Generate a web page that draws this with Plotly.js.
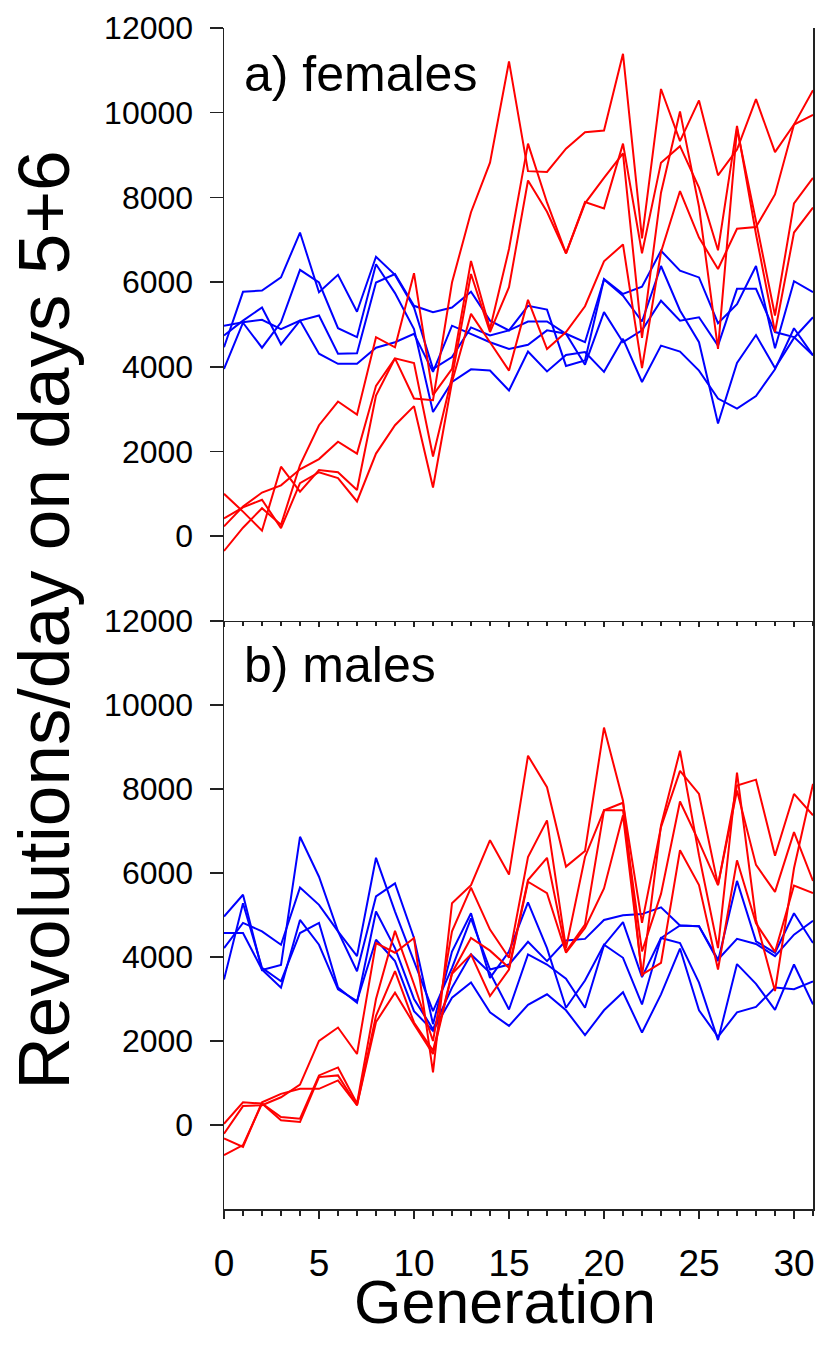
<!DOCTYPE html>
<html>
<head>
<meta charset="utf-8">
<script src="https://cdn.plot.ly/plotly-3.0.1.min.js"></script>
<style>
html,body{margin:0;padding:0;background:#fff;}
#chart{width:817px;height:1350px;}
</style>
</head>
<body>
<div id="chart"></div>
<script>
// Generations (x values)
const generations = [0,1,2,3,4,5,6,7,8,9,10,11,12,13,14,15,16,17,18,19,20,21,22,23,24,25,26,27,28,29,30,31];

// a) females - control lines (blue)
const femalesBlue1 = [4460,5770,5800,6110,7170,5760,6170,5300,6600,6170,5400,3950,4230,4930,4740,4860,5070,5070,4780,4580,6060,5680,5070,6380,5330,4580,2660,4090,4750,3970,4680,5170];
const femalesBlue2 = [3950,5040,4450,5050,6290,5990,4910,4700,6420,5740,4890,2930,3640,3940,3910,3440,4360,3890,4280,4350,3880,4660,3640,4500,4360,3910,3250,3010,3310,3940,4910,4270];
const femalesBlue3 = [4740,5090,5400,4530,5090,5210,4310,4320,5990,6190,5440,5290,5400,5770,5090,4860,5440,5350,4020,4150,6070,5720,5890,6740,6270,6110,5030,5480,6380,4440,6020,5760];
const femalesBlue4 = [4970,5050,5110,4890,5090,4310,4070,4070,4450,4580,4780,3880,4970,4780,4580,4420,4520,4860,4780,4050,5290,4580,4860,5560,5090,5170,4500,5840,5840,4820,4700,4270];

// a) females - selected lines (red)
const femalesRed1 = [1000,580,130,1640,1050,1560,1510,1090,3320,4200,3250,3210,5990,7650,8820,11210,8620,8600,9150,9540,9580,11390,7030,10560,9330,10290,8520,9130,10320,9070,9720,9950];
const femalesRed2 = [-350,200,660,270,1680,2620,3180,2870,4700,4460,6210,3330,3950,6500,4890,6780,9270,7880,6680,7890,7740,9270,6680,8820,9210,8230,6750,9690,7130,4820,7170,7760];
const femalesRed3 = [230,700,1030,1200,1580,1820,2230,1950,3550,4200,4090,1880,3760,6190,4820,5880,8400,7660,6680,7860,8460,9040,4680,8110,10030,7780,4420,9620,7440,5210,7860,8460];
const femalesRed4 = [420,680,860,190,1250,1510,1370,820,1950,2620,3070,1150,3640,5250,4580,3910,5580,4420,4820,5430,6490,6890,3970,6710,8150,7050,6310,7260,7300,8070,9720,10530];

// b) males - control lines (blue)
const malesBlue1 = [4960,5480,3690,3810,6860,5910,4610,4020,6360,5080,3900,2710,3740,4920,3700,3820,4360,3900,4390,4430,4880,4990,5020,5180,4750,4730,3940,4430,4310,4020,4530,4860];
const malesBlue2 = [4570,4570,3700,3270,4880,4290,3230,2950,4410,3900,2710,2240,3030,3390,2680,2360,2860,3110,2730,2140,2730,3160,2200,3110,4200,2730,2100,2680,2810,3270,3230,3420];
const malesBlue3 = [4210,4810,4610,4290,5650,5240,4610,3660,5440,5750,4450,2400,4130,5040,3500,4130,5300,4210,2790,3440,4290,3980,2870,4450,4750,4730,3900,5810,4370,4100,5040,4330];
const malesBlue4 = [3460,5280,3740,3420,4570,4810,3270,2910,5080,4210,3000,2280,3270,4060,3620,2750,4060,3820,3480,2790,4280,4830,3520,4450,4330,3390,2020,3830,3360,2740,3820,2870];

// b) males - selected lines (red)
const malesRed1 = [30,540,510,190,150,1180,1370,510,3000,4620,3350,2000,4610,5650,4650,3980,6380,7250,4210,6380,7490,7670,4810,7090,8430,7880,5710,8080,8220,6410,7880,7370];
const malesRed2 = [-320,-520,540,740,860,860,1060,470,2600,3660,2440,1770,3620,4450,4150,3740,5830,6360,4130,4770,7490,7490,4130,5500,7700,6740,5710,7960,6190,5550,6970,5810];
const malesRed3 = [-210,450,470,660,960,2000,2320,1690,4330,4100,4450,1250,5280,5710,6780,5960,8790,8040,6150,6520,9460,7720,3540,7130,8910,6420,4210,8390,4880,3190,6110,8120];
const malesRed4 = [-720,-480,510,110,70,1140,1180,470,2450,3150,2400,1690,3600,4060,3070,3700,5790,5520,4100,4690,5630,7370,3580,3860,6540,5710,3700,6300,4800,4120,5700,5520];

// Tick labels
const yTickValues = [0,2000,4000,6000,8000,10000,12000];
const yTickLabels = ['0','2000','4000','6000','8000','10000','12000'];

const panelLabels = ['a) females','b) males'];
const xTitle = 'Generation';
const yTitle = 'Revolutions/day on days 5+6';

const BLUE = '#0000ff', RED = '#ff0000';
const FONT = 'Arial, "Liberation Sans", Helvetica, sans-serif';

function line(y, color, xa, ya) {
  return {x: generations, y: y, type: 'scatter', mode: 'lines',
          line: {color: color, width: 2}, xaxis: xa, yaxis: ya, hoverinfo: 'skip'};
}

const traces = [
  line(femalesBlue1, BLUE, 'x2', 'y2'), line(femalesBlue2, BLUE, 'x2', 'y2'),
  line(femalesBlue3, BLUE, 'x2', 'y2'), line(femalesBlue4, BLUE, 'x2', 'y2'),
  line(femalesRed1, RED, 'x2', 'y2'), line(femalesRed2, RED, 'x2', 'y2'),
  line(femalesRed3, RED, 'x2', 'y2'), line(femalesRed4, RED, 'x2', 'y2'),
  line(malesBlue1, BLUE, 'x', 'y'), line(malesBlue2, BLUE, 'x', 'y'),
  line(malesBlue3, BLUE, 'x', 'y'), line(malesBlue4, BLUE, 'x', 'y'),
  line(malesRed1, RED, 'x', 'y'), line(malesRed2, RED, 'x', 'y'),
  line(malesRed3, RED, 'x', 'y'), line(malesRed4, RED, 'x', 'y')
];

const AX = '#222222';
const yBase = {
  range: [-2000, 12000], tickmode: 'array', tickvals: yTickValues, ticktext: yTickLabels,
  ticks: 'outside', ticklen: 13, tickwidth: 1.5, tickcolor: AX,
  showline: true, linecolor: AX, linewidth: 1.5, mirror: true,
  showgrid: false, zeroline: false, fixedrange: true,
  tickfont: {family: FONT, size: 32, color: '#000'}, ticklabelstandoff: 10
};
const split = 0.498;

const layout = {
  width: 817, height: 1350,
  margin: {l: 224, r: 4, t: 28, b: 141},
  paper_bgcolor: '#ffffff', plot_bgcolor: '#ffffff',
  showlegend: false, hovermode: false,
  font: {family: FONT, color: '#000'},
  xaxis: {
    domain: [0, 1], anchor: 'y', range: [0, 31],
    tickmode: 'linear', tick0: 0, dtick: 5,
    ticks: 'outside', ticklen: 8, tickwidth: 1.5, tickcolor: AX,
    minor: {dtick: 1, tick0: 0, ticks: 'outside', ticklen: 5, tickwidth: 1.5, tickcolor: AX, showgrid: false},
    showline: true, linecolor: AX, linewidth: 1.5,
    showgrid: false, zeroline: false, fixedrange: true,
    tickfont: {family: FONT, size: 37, color: '#000'}, ticklabelstandoff: 13
  },
  xaxis2: {
    domain: [0, 1], anchor: 'y2', range: [0, 31], matches: 'x',
    tickmode: 'linear', tick0: 0, dtick: 5,
    ticks: 'outside', ticklen: 5, tickwidth: 1.5, tickcolor: AX,
    minor: {dtick: 1, tick0: 0, ticks: 'outside', ticklen: 4, tickwidth: 1.5, tickcolor: AX, showgrid: false},
    showticklabels: false,
    showline: true, linecolor: AX, linewidth: 1.5,
    showgrid: false, zeroline: false, fixedrange: true
  },
  yaxis: Object.assign({}, yBase, {domain: [0, split], anchor: 'x'}),
  yaxis2: Object.assign({}, yBase, {domain: [split, 1], anchor: 'x2'}),
  annotations: [
    {text: panelLabels[0], xref: 'paper', yref: 'paper', x: 0.031, y: 0.961,
     xanchor: 'left', yanchor: 'middle', showarrow: false, font: {family: FONT, size: 50, color: '#000'}},
    {text: panelLabels[1], xref: 'paper', yref: 'paper', x: 0.031, y: 0.4606,
     xanchor: 'left', yanchor: 'middle', showarrow: false, font: {family: FONT, size: 50, color: '#000'}},
    {text: yTitle, xref: 'paper', yref: 'paper', x: -0.3056, y: 0.498, textangle: -90,
     xanchor: 'center', yanchor: 'middle', showarrow: false, font: {family: FONT, size: 73, color: '#000'}},
    {text: xTitle, xref: 'paper', yref: 'paper', x: 0.477, y: -0.0785,
     xanchor: 'center', yanchor: 'middle', showarrow: false, font: {family: FONT, size: 61, color: '#000'}}
  ]
};

Plotly.newPlot('chart', traces, layout, {staticPlot: true, displayModeBar: false});
</script>
</body>
</html>
